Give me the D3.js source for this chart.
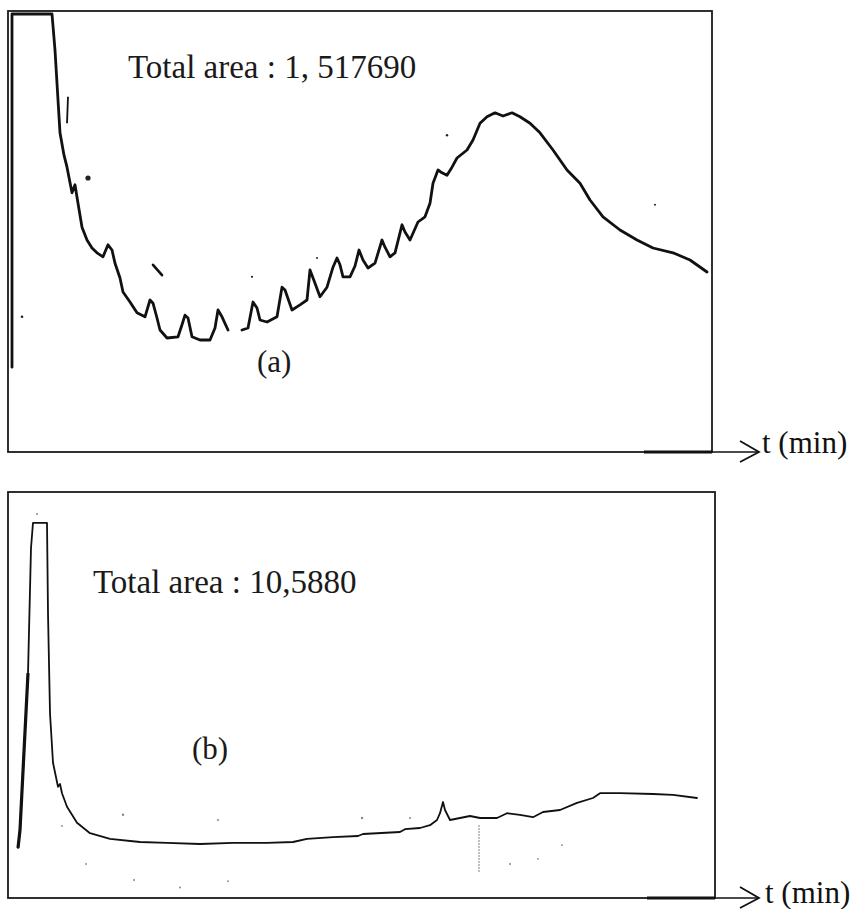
<!DOCTYPE html>
<html>
<head>
<meta charset="utf-8">
<script src="https://cdn.jsdelivr.net/npm/d3@7"></script>
<style>
  body { margin: 0; background: #fff; }
  svg { display: block; }
</style>
</head>
<body>
<svg width="854" height="909"></svg>
<script>
// chromatogram (a): time (min) and detector signal, null = gap in the trace
var timeA = [0.2, 0.2, 2.2, 2.35, 2.5, 2.6, 2.8, 2.95, 3.2, 3.35, 3.5, 3.7, 3.95, 4.2, 4.45, 4.75, 5.0, 5.2, 5.35, 5.6,
  5.75, 6.1, 6.45, 6.85, 7.1, 7.25, 7.45, 7.6, 7.95, 8.5, 8.7, 8.85, 9.0, 9.2, 9.6, 10.1, 10.35, 10.5, 10.7, 11.0,
  11.35,
  11.7, 12.0, 12.25, 12.45, 12.6, 12.95, 13.45, 13.7, 13.85, 14.2, 14.6, 14.95, 15.1, 15.35, 15.6, 15.95, 16.25, 16.45, 16.6,
  16.75, 17.1, 17.35, 17.55, 17.75, 18.0, 18.35, 18.7, 18.85, 19.1, 19.35, 19.7, 19.85, 20.1, 20.5, 20.85, 21.1, 21.25, 21.5, 21.7,
  21.95, 22.2, 22.45, 22.95, 23.25, 23.6, 23.95, 24.35, 24.75, 25.2, 25.6, 26.1, 26.6, 27.25, 27.95, 28.6, 29.1, 29.75, 30.6, 31.45,
  32.25, 33.25, 34.1, 34.95];
var signalA = [21.2, 109.5, 109.5, 100.5, 88, 79.8, 74.2, 71.2, 64.8, 66.8, 62.2, 56.2, 53, 51, 49.8, 48.8, 51.8, 50.5, 47.2, 43.5,
  40, 37.5, 34.8, 33.8, 38, 37.2, 33.5, 30.5, 28.5, 28.8, 31.8, 34.2, 33.5, 28.8, 28, 28, 31, 35.5, 33.8, 30.5,
  null,
  30.5, 31, 37.5, 36, 33, 32.5, 33.8, 41.2, 40.5, 35.5, 36.8, 38, 45.5, 42.2, 38.8, 41.2, 46.2, 48.5, 46.8,
  43.8, 43.8, 46.5, 50.5, 48, 46, 47.2, 53, 51.2, 48.8, 49.8, 56.8, 55, 53, 57.5, 58.8, 62.2, 67.2, 70.5, 69.8,
  69.2, 71.2, 73.5, 75.5, 78, 82.2, 83.8, 84.8, 84, 84.8, 83.8, 82.2, 79.8, 75.5, 70.5, 67.2, 63, 58.8, 55.5, 53,
  51, 49.8, 48, 45];

// chromatogram (b)
var timeB = [0.5, 0.6, 1.0, 1.15, 1.25, 1.95, 2.0, 2.1, 2.25, 2.5, 2.6, 2.7, 2.95, 3.45, 4.1, 5.1, 6.6, 7.95, 9.6, 11.25,
  12.95, 14.25, 14.95, 16.25, 17.5, 17.75, 19.6, 19.85, 20.6, 21.1, 21.45, 21.6, 21.75, 21.85, 22.1, 22.6, 23.1, 23.6, 24.45, 24.95,
  25.6, 26.25, 26.75, 27.6, 28.45, 29.25, 29.6, 30.6, 32.25, 33.25, 34.45];
var signalB = [12.5, 17, 56.2, 87.5, 93.8, 93.8, 71.2, 46.2, 33.8, 27.8, 28.5, 26.2, 22.8, 18.8, 16.2, 14.8, 14, 13.8, 13.5, 13.8,
  13.8, 14, 14.8, 15.2, 15.5, 16, 16.5, 17.2, 17.5, 18.2, 19.5, 21.2, 24, 22, 19.5, 20, 20.5, 20, 20, 21.2,
  20.8, 20.2, 21.5, 22, 23.8, 25, 26.2, 26.2, 26, 25.8, 25];

var areaLabels = ["Total area : 1, 517690", "Total area : 10,5880"];
var panelLabels = ["(a)", "(b)"];
var axisLabel = "t (min)";

// small specks of the scanned recorder paper: [time, signal, radius]
var specksA = [[0.7, 33.8, 1.3], [4.0, 68.5, 2.6], [21.95, 79.2, 1.2], [15.45, 48.5, 1], [12.2, 43.8, 1.1], [32.35, 61.8, 1]];
var specksB = [[5.75, 20.8, 1.2], [10.5, 19.5, 1], [17.7, 20, 1.2], [20.1, 20, 1], [1.45, 96, 1], [2.7, 18, 0.9],
  [3.9, 8.5, 0.9], [6.3, 4.5, 1], [8.6, 2.6, 1], [11.0, 4.2, 0.9], [25.1, 8.5, 1], [26.5, 9.8, 0.9], [27.7, 13.2, 0.9]];

var svg = d3.select("svg");
var serif = "'Liberation Serif', 'Times New Roman', serif";

var panels = [
  { time: timeA, signal: signalA, specks: specksA, tMax: 35.2, vMax: 110.25,
    left: 8, right: 712, top: 11, bottom: 452, width: 2.8,
    area: [128, 78], tag: [257, 372], unit: [762, 453] },
  { time: timeB, signal: signalB, specks: specksB, tMax: 35.35, vMax: 101.5,
    left: 8, right: 715, top: 492, bottom: 898, width: 1.8,
    area: [93, 593], tag: [192, 759], unit: [765, 903] }
];

panels.forEach(function(p, i) {
  var x = d3.scaleLinear().domain([0, p.tMax]).range([p.left, p.right]);
  var y = d3.scaleLinear().domain([0, p.vMax]).range([p.bottom, p.top]);
  var g = svg.append("g");

  var pts = p.time.map(function(t, k) { return { t: t, v: p.signal[k] }; });

  // frame of the recorder chart
  g.append("rect")
      .attr("x", p.left).attr("y", p.top)
      .attr("width", p.right - p.left).attr("height", p.bottom - p.top)
      .attr("fill", "none").attr("stroke", "#1a1a1a").attr("stroke-width", 1.8);
  // heavier piece of the baseline near the right corner
  g.append("line")
      .attr("x1", p.right - 68).attr("x2", p.right)
      .attr("y1", p.bottom).attr("y2", p.bottom)
      .attr("stroke", "#111").attr("stroke-width", 3);

  // time arrow
  g.append("line")
      .attr("x1", p.right).attr("x2", 758)
      .attr("y1", p.bottom).attr("y2", p.bottom)
      .attr("stroke", "#111").attr("stroke-width", 1.6);
  g.append("path")
      .attr("d", "M740," + (p.bottom - 11) + "L759," + p.bottom + "L740," + (p.bottom + 10))
      .attr("fill", "none").attr("stroke", "#111").attr("stroke-width", 1.8);
  g.append("text")
      .attr("x", p.unit[0]).attr("y", p.unit[1])
      .attr("font-family", serif).attr("font-size", 31).attr("fill", "#111")
      .text(axisLabel);

  // specks
  g.selectAll("circle.speck").data(p.specks).enter().append("circle")
      .attr("class", "speck")
      .attr("cx", function(d) { return x(d[0]); })
      .attr("cy", function(d) { return y(d[1]); })
      .attr("r", function(d) { return d[2]; })
      .attr("fill", i === 0 ? "#222" : "#888");

  // the trace
  var line = d3.line()
      .defined(function(d) { return d.v != null; })
      .x(function(d) { return x(d.t); })
      .y(function(d) { return y(d.v); });

  g.append("path")
      .datum(pts)
      .attr("d", line)
      .attr("fill", "none")
      .attr("stroke", "#111")
      .attr("stroke-width", p.width)
      .attr("stroke-linejoin", "round")
      .attr("stroke-linecap", "round");

  if (i === 0) {
    // stray pen strokes
    g.append("line")
        .attr("x1", x(7.25)).attr("y1", y(46.8)).attr("x2", x(7.7)).attr("y2", y(44.2))
        .attr("stroke", "#111").attr("stroke-width", 2.6).attr("stroke-linecap", "round");
    g.append("line")
        .attr("x1", x(3.0)).attr("y1", y(88.8)).attr("x2", x(2.95)).attr("y2", y(82.2))
        .attr("stroke", "#111").attr("stroke-width", 1.8);
  } else {
    // thicker pen on the injection rise
    g.append("path")
        .datum(pts.slice(0, 3))
        .attr("d", line)
        .attr("fill", "none").attr("stroke", "#111").attr("stroke-width", 3.2);
    // faint dotted mark below the baseline
    g.append("line")
        .attr("x1", x(23.55)).attr("x2", x(23.55))
        .attr("y1", y(18.2)).attr("y2", y(6.5))
        .attr("stroke", "#777").attr("stroke-width", 1.2).attr("stroke-dasharray", "1.5,1.5");
  }

  g.append("text")
      .attr("x", p.area[0]).attr("y", p.area[1])
      .attr("font-family", serif).attr("font-size", 33).attr("fill", "#1a1a1a")
      .text(areaLabels[i]);
  g.append("text")
      .attr("x", p.tag[0]).attr("y", p.tag[1])
      .attr("font-family", serif).attr("font-size", 31).attr("fill", "#1a1a1a")
      .text(panelLabels[i]);
});
</script>
</body>
</html>
